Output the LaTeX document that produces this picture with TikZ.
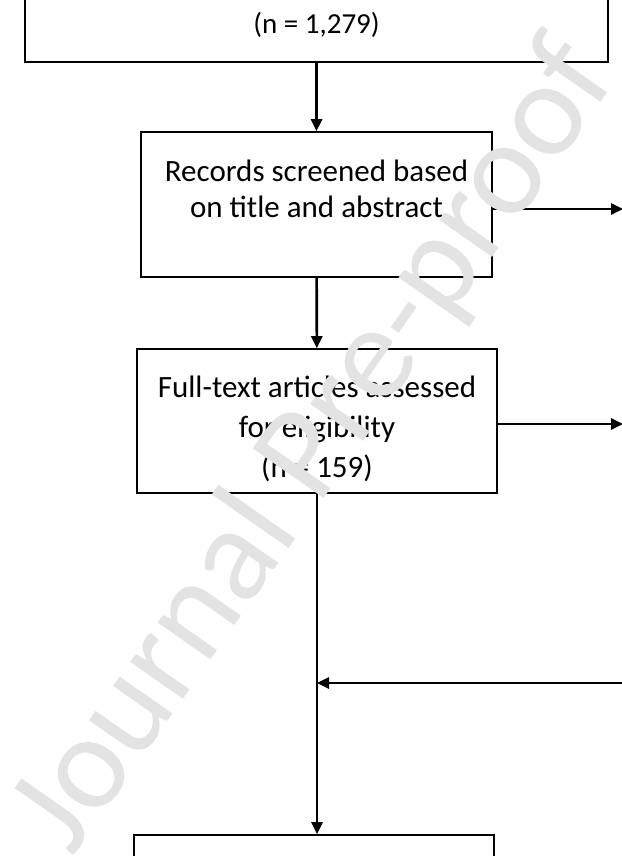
\documentclass[tikz,border=0pt]{standalone}
\usepackage{fontspec}
\setmainfont{Carlito}
\usetikzlibrary{arrows.meta}

\definecolor{markgray}{HTML}{E3E3E3}

\begin{document}
\begin{tikzpicture}[x=1pt, y=-1pt,
    box/.style={rectangle, draw, line width=1.6pt, align=center, font=\fontsize{31}{40}\selectfont},
    arr/.style={line width=2.6pt, -{Triangle[length=12pt,width=11pt]}}]

    \useasboundingbox (0,0) rectangle (621,856);

    \node[box, minimum width=583pt, minimum height=74pt, font=\fontsize{29}{36}\selectfont] (identified) at (316.5,25) {(n = 1,279)};
    \node[box, minimum width=351pt, minimum height=145pt, text depth=32pt, font=\fontsize{31}{36}\selectfont] (screened) at (316.5,204.5) {Records screened based\\on title and abstract};
    \node[box, minimum width=360pt, minimum height=144pt, text height=117pt] (fulltext) at (317,421) {Full-text articles assessed\\for eligibility\\(n = 159)};
    \node[box, minimum width=360pt, minimum height=100pt] (included) at (314,885) {};

    \coordinate (exclscreen) at (623,209);
    \coordinate (exclfull) at (623,424);
    \coordinate (other) at (623,683);
    \coordinate (join) at (fulltext.south |- other);

    \draw[arr] (identified) -- (screened);
    \draw[arr] (screened) -- (fulltext);
    \draw[arr] (screened.east |- exclscreen) -- (exclscreen);
    \draw[arr] (fulltext.east |- exclfull) -- (exclfull);
    \draw[arr] (fulltext.south) -- (fulltext.south |- included.north);
    \draw[arr] (other) -- (join);

    % watermark over the chart
    \node[text=markgray, font=\fontsize{135}{135}\selectfont, rotate=55] (mark) at (316,447) {Journal Pre-proof};

\end{tikzpicture}
\end{document}
